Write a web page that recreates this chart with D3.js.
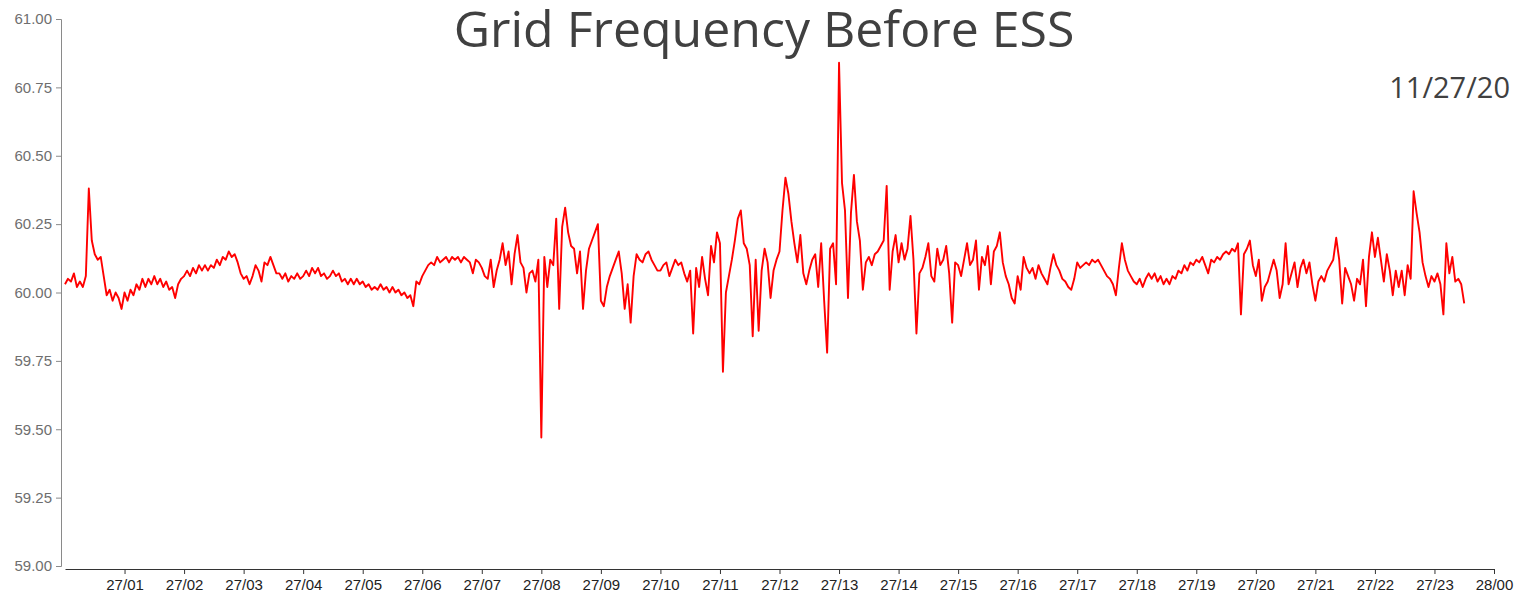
<!DOCTYPE html>
<html>
<head>
<meta charset="utf-8">
<title>Grid Frequency Before ESS</title>
<script src="https://cdn.jsdelivr.net/npm/d3@7"></script>
<style>
  body { margin: 0; background: #ffffff; }
  svg { display: block; }
  .y-axis text { font-family: "Liberation Sans", Arial, sans-serif; font-size: 15px; fill: #6e6e6e; }
  .y-axis path, .y-axis line { stroke: #8a8a8a; }
  .x-axis text { font-family: "Liberation Sans", Arial, sans-serif; font-size: 15px; fill: #222222; }
  .x-axis path, .x-axis line { stroke: #333333; }
</style>
</head>
<body>
<div id="chart"></div>
<script>
'use strict';

// chart texts
const chartTitle = "Grid Frequency Before ESS";
const chartDate = "11/27/20";

// one reading every 3 minutes, starting 27/00
const stepMinutes = 3;

// frequency (Hz), one row per hour
const freqHz = [
    60.03, 60.05, 60.04, 60.07, 60.02, 60.04, 60.02, 60.06, 60.38, 60.19, 60.14, 60.12, 60.13, 60.06, 59.99, 60.01, 59.97, 60.00, 59.98, 59.94,
    60.00, 59.97, 60.01, 59.99, 60.03, 60.01, 60.05, 60.02, 60.05, 60.03, 60.06, 60.03, 60.05, 60.02, 60.04, 60.01, 60.02, 59.98, 60.03, 60.05,
    60.06, 60.08, 60.06, 60.09, 60.07, 60.10, 60.08, 60.10, 60.08, 60.10, 60.09, 60.12, 60.10, 60.13, 60.12, 60.15, 60.13, 60.14, 60.11, 60.07,
    60.05, 60.06, 60.03, 60.06, 60.10, 60.08, 60.04, 60.11, 60.10, 60.13, 60.10, 60.07, 60.07, 60.05, 60.07, 60.04, 60.06, 60.05, 60.07, 60.05,
    60.06, 60.08, 60.06, 60.09, 60.07, 60.09, 60.06, 60.07, 60.05, 60.06, 60.08, 60.06, 60.07, 60.04, 60.05, 60.03, 60.05, 60.03, 60.05, 60.03,
    60.04, 60.02, 60.03, 60.01, 60.02, 60.01, 60.03, 60.01, 60.02, 60.00, 60.02, 60.00, 60.01, 59.99, 60.00, 59.98, 59.99, 59.95, 60.04, 60.03,
    60.06, 60.08, 60.10, 60.11, 60.10, 60.13, 60.11, 60.12, 60.13, 60.11, 60.13, 60.12, 60.13, 60.11, 60.13, 60.12, 60.11, 60.07, 60.12, 60.11,
    60.09, 60.06, 60.05, 60.12, 60.02, 60.08, 60.12, 60.18, 60.10, 60.15, 60.03, 60.14, 60.21, 60.11, 60.09, 60.00, 60.07, 60.08, 60.04, 60.12,
    59.47, 60.13, 60.02, 60.12, 60.10, 60.27, 59.94, 60.24, 60.31, 60.22, 60.17, 60.16, 60.07, 60.15, 59.94, 60.08, 60.16, 60.19, 60.22, 60.25,
    59.97, 59.95, 60.02, 60.06, 60.09, 60.12, 60.15, 60.07, 59.94, 60.03, 59.89, 60.06, 60.14, 60.12, 60.11, 60.14, 60.15, 60.12, 60.10, 60.08,
    60.08, 60.10, 60.11, 60.06, 60.09, 60.12, 60.10, 60.11, 60.07, 60.04, 60.08, 59.85, 60.09, 60.02, 60.13, 60.05, 59.99, 60.17, 60.11, 60.22,
    60.18, 59.71, 60.00, 60.06, 60.12, 60.19, 60.27, 60.30, 60.18, 60.16, 60.10, 59.84, 60.12, 59.86, 60.08, 60.16, 60.11, 59.98, 60.08, 60.12,
    60.15, 60.30, 60.42, 60.36, 60.26, 60.18, 60.11, 60.21, 60.07, 60.03, 60.08, 60.12, 60.14, 60.02, 60.18, 59.97, 59.78, 60.16, 60.18, 60.03,
    60.84, 60.40, 60.30, 59.98, 60.29, 60.43, 60.26, 60.19, 60.01, 60.11, 60.13, 60.10, 60.14, 60.15, 60.17, 60.19, 60.39, 60.01, 60.15, 60.21,
    60.11, 60.18, 60.12, 60.16, 60.28, 60.12, 59.85, 60.07, 60.09, 60.13, 60.18, 60.06, 60.04, 60.16, 60.10, 60.12, 60.17, 60.07, 59.89, 60.11,
    60.10, 60.06, 60.12, 60.18, 60.10, 60.12, 60.19, 60.01, 60.13, 60.10, 60.17, 60.03, 60.15, 60.17, 60.22, 60.11, 60.06, 60.03, 59.98, 59.96,
    60.06, 60.01, 60.13, 60.09, 60.07, 60.09, 60.05, 60.10, 60.07, 60.05, 60.03, 60.09, 60.14, 60.10, 60.08, 60.05, 60.04, 60.02, 60.01, 60.05,
    60.11, 60.09, 60.10, 60.11, 60.10, 60.12, 60.11, 60.12, 60.10, 60.08, 60.06, 60.05, 60.03, 59.99, 60.09, 60.18, 60.12, 60.08, 60.06, 60.04,
    60.03, 60.05, 60.02, 60.05, 60.07, 60.05, 60.07, 60.04, 60.06, 60.03, 60.05, 60.03, 60.06, 60.05, 60.08, 60.07, 60.10, 60.08, 60.11, 60.10,
    60.12, 60.11, 60.13, 60.10, 60.07, 60.12, 60.11, 60.13, 60.12, 60.14, 60.15, 60.14, 60.16, 60.15, 60.18, 59.92, 60.14, 60.16, 60.19, 60.10,
    60.06, 60.12, 59.97, 60.02, 60.04, 60.08, 60.12, 60.08, 59.98, 60.03, 60.18, 60.03, 60.07, 60.11, 60.02, 60.09, 60.12, 60.07, 60.11, 60.03,
    59.97, 60.04, 60.06, 60.04, 60.08, 60.10, 60.12, 60.20, 60.12, 59.96, 60.09, 60.06, 60.03, 59.97, 60.05, 60.03, 60.12, 59.95, 60.13, 60.22,
    60.13, 60.20, 60.12, 60.04, 60.14, 60.08, 59.99, 60.08, 60.02, 60.08, 59.99, 60.10, 60.05, 60.37, 60.29, 60.22, 60.11, 60.06, 60.02, 60.06,
    60.04, 60.07, 60.03, 59.92, 60.18, 60.07, 60.13, 60.04, 60.05, 60.03, 59.96
];

// axis ticks
const yTickValues = [59.00, 59.25, 59.50, 59.75, 60.00, 60.25, 60.50, 60.75, 61.00];
const xTickHours = [1, 2, 3, 4, 5, 6, 7, 8, 9, 10, 11, 12, 13, 14, 15, 16, 17, 18, 19, 20, 21, 22, 23, 24];
const xTickLabels = ["27/01", "27/02", "27/03", "27/04", "27/05", "27/06", "27/07", "27/08",
                     "27/09", "27/10", "27/11", "27/12", "27/13", "27/14", "27/15", "27/16",
                     "27/17", "27/18", "27/19", "27/20", "27/21", "27/22", "27/23", "28/00"];

//------------------------------------------------------------
// draw
//------------------------------------------------------------
{ // start scope

const width = 1520;
const height = 595;

const svg = d3.select("#chart")
    .append("svg")
    .attr("width", width)
    .attr("height", height);

const xScale = d3.scaleLinear()
    .domain([0, 24])
    .range([65, 1494]);

const yScale = d3.scaleLinear()
    .domain([59, 61])
    .range([566, 19]);

// y axis
svg.append("g")
    .attr("class", "y-axis")
    .attr("transform", "translate(61,0)")
    .call(d3.axisLeft(yScale)
        .tickValues(yTickValues)
        .tickFormat(d3.format(".2f"))
        .tickSize(5)
        .tickSizeOuter(5)
        .tickPadding(4));

// x axis
svg.append("g")
    .attr("class", "x-axis")
    .attr("transform", "translate(0,569)")
    .call(d3.axisBottom(xScale)
        .tickValues(xTickHours)
        .tickFormat((d, i) => xTickLabels[i])
        .tickSize(5)
        .tickSizeOuter(0)
        .tickPadding(5));

// frequency line
const line = d3.line()
    .x((d, i) => xScale(i * stepMinutes / 60))
    .y((d) => yScale(d));

svg.append("path")
    .datum(freqHz)
    .attr("fill", "none")
    .attr("stroke", "#ff0000")
    .attr("stroke-width", 1.9)
    .attr("stroke-linejoin", "round")
    .attr("d", line);

// title and date
svg.append("text")
    .attr("x", 764)
    .attr("y", 47)
    .attr("text-anchor", "middle")
    .style("font-family", "'Open Sans', sans-serif")
    .style("font-size", "50px")
    .style("fill", "#404040")
    .text(chartTitle);

svg.append("text")
    .attr("x", 1510)
    .attr("y", 98)
    .attr("text-anchor", "end")
    .style("font-family", "'Open Sans', sans-serif")
    .style("font-size", "29px")
    .style("fill", "#404040")
    .text(chartDate);

} // end scope
</script>
</body>
</html>
